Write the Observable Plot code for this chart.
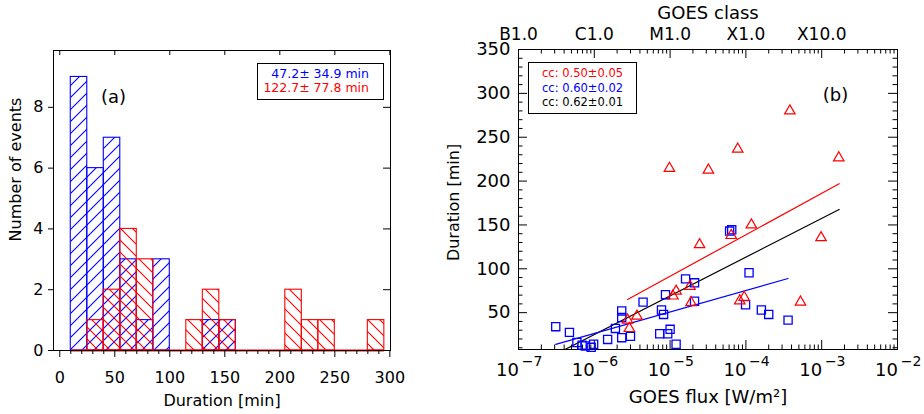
<!DOCTYPE html>
<html><head><meta charset="utf-8">
<script src="https://cdn.jsdelivr.net/npm/d3@7"></script>
<script src="https://cdn.jsdelivr.net/npm/@observablehq/plot@0.6"></script>
<style>
body{margin:0;background:#fff;}
#wrap{position:relative;width:924px;height:414px;overflow:hidden;font-family:"DejaVu Sans",sans-serif;background:#fff;}
#wrap svg.chart{position:absolute;top:0;}
.legend{position:absolute;border:1px solid #000;background:#fff;box-sizing:border-box;}
.legend div{white-space:pre;}
</style></head><body>
<svg width="0" height="0" style="position:absolute" aria-hidden="true">
  <defs>
    <pattern id="hatchBlue" patternUnits="userSpaceOnUse" width="12" height="12">
      <path d="M-3,3L3,-3M0,12L12,0M9,15L15,9" style="stroke:#0000ff;stroke-width:1.1;fill:none"/>
    </pattern>
    <pattern id="hatchRed" patternUnits="userSpaceOnUse" width="12" height="12">
      <path d="M-3,9L3,15M0,0L12,12M9,-3L15,3" style="stroke:#ff0000;stroke-width:1.1;fill:none"/>
    </pattern>
  </defs>
</svg>
<div id="wrap"></div>
<script>
// ---------- Panel (a): duration histogram ----------
const durEdges = [10,25,40,55,70,85,100,115,130,145,160,175,190,205,220,235,250,265,280,295];
const shortCounts = [9,6,7,3,1,3,0,0,1,1,0,0,0,0,0,0,0,0,0];
const longCounts  = [0,1,2,4,3,0,0,1,2,1,0,0,0,2,1,1,0,0,1];
const histYTicks = [0,2,4,6,8];
const histXTicks = [0,50,100,150,200,250,300];
const histXMinor = [10,20,30,40,60,70,80,90,110,120,130,140,160,170,180,190,210,220,230,240,260,270,280,290];
const legendA = ["47.2\u00b1 34.9 min", "122.7\u00b1 77.8 min"];

// ---------- Panel (b): GOES flux vs duration ----------
const shortFlux = [3.1e-7,4.7e-7,5.9e-7,6.9e-7,7.6e-7,9.1e-7,9.8e-7,1.5e-6,1.9e-6,2.3e-6,2.3e-6,2.3e-6,3.0e-6,4.4e-6,7.3e-6,7.7e-6,8.2e-6,8.7e-6,9.3e-6,1.0e-5,1.2e-5,1.6e-5,2.1e-5,2.1e-5,1.1e-4,9.9e-5,1.6e-4,2.0e-4,3.6e-4,6.1e-5,6.5e-5];
const shortDur  = [34,27.5,16,13,12,10.5,14,19.5,32,52,44.5,21.5,23,62,26,53,48,70.5,26,31,14,88.5,84,63,95.5,59,53,48,41.5,143,144.5];
const longFlux = [3.8e-4,9.8e-6,3.2e-5,7.8e-5,1.68e-3,1.18e-4,6.4e-5,2.45e-5,9.8e-4,2.75e-6,3.65e-6,2.9e-6,1.2e-5,1.09e-5,1.83e-5,1.89e-5,8.3e-5,9.5e-5,5.25e-4];
const longDur  = [280,214.5,212.5,236.5,226.5,150,138,127.5,135.5,41.5,46,32,74.5,69,80,61.5,63.5,67.5,62];
const fitRedFlux = [2.75e-6, 1.7e-3],  fitRedDur = [65, 197];
const fitBlackFlux = [3.1e-7, 1.7e-3], fitBlackDur = [2.6, 167.6];
const fitBlueFlux = [3.1e-7, 3.6e-4],  fitBlueDur = [13.9, 88.9];
const fluxTicks = [1e-7,1e-6,1e-5,1e-4,1e-3,1e-2];
const fluxExp = ["\u22127","\u22126","\u22125","\u22124","\u22123","\u22122"];
const goesTicks = [1e-7,1e-6,1e-5,1e-4,1e-3];
const goesLabels = ["B1.0","C1.0","M1.0","X1.0","X10.0"];
const durTicks = [50,100,150,200,250,300,350];
const durMinor = d3.range(10, 350, 10).filter(v => v % 50 !== 0);
const fluxMinor = [-7,-6,-5,-4,-3].flatMap(e => [2,3,4,5,6,7,8,9].map(m => m * Math.pow(10, e)));
const legendB = [["cc: 0.50\u00b10.05", "#f00"], ["cc: 0.60\u00b10.02", "#00f"], ["cc: 0.62\u00b10.01", "#000"]];

const FONT = "DejaVu Sans, sans-serif";
const bins = shortCounts.map((c, i) => ({x1: durEdges[i], x2: durEdges[i + 1], short: c, long: longCounts[i]}));
const mid = {textAnchor: "middle", lineAnchor: "middle"};

// ---------- left plot ----------
const WA = 440, HA = 414, mlA = 53, mrA = 50, mtA = 50, mbA = 64;
const fwA = WA - mlA - mrA, fhA = HA - mtA - mbA;
const plotA = Plot.plot({
  width: WA, height: HA, marginLeft: mlA, marginRight: mrA, marginTop: mtA, marginBottom: mbA,
  className: "chart",
  style: {fontFamily: FONT, color: "#000", background: "transparent", overflow: "visible"},
  x: {domain: [-5.7, 300.6], label: null},
  y: {domain: [0, 9.87], label: null},
  marks: [
    Plot.rectY(bins, {x1: "x1", x2: "x2", y1: 0, y2: "short", fill: "url(#hatchBlue)", stroke: "#00f", strokeWidth: 1.1}),
    Plot.rectY(bins, {x1: "x1", x2: "x2", y1: 0, y2: "long", fill: "url(#hatchRed)", stroke: "#f00", strokeWidth: 1.1}),
    Plot.ruleY([0], {x1: durEdges[0], x2: durEdges[durEdges.length - 1], stroke: "#f00", strokeWidth: 2}),
    Plot.frame({stroke: "#000"}),
    Plot.axisY(histYTicks, {anchor: "left", tickSize: 5, tickPadding: 5, fontSize: 16, label: null}),
    Plot.ruleY(histYTicks.slice(1), {y: d => d, insetLeft: fwA - 7, stroke: "#000"}),
    Plot.axisX(histXTicks, {anchor: "bottom", tickSize: 7, tickPadding: 14, fontSize: 16, label: null}),
    Plot.axisX(histXMinor, {anchor: "bottom", tickSize: 4, text: null, label: null}),
    Plot.ruleX(histXTicks, {x: d => d, insetBottom: fhA - 5, stroke: "#000"}),
    Plot.text(["(a)"], {text: d => d, frameAnchor: "top-left", dx: 60, dy: 47, fontSize: 18, ...mid}),
    Plot.text(["Number of events"], {text: d => d, frameAnchor: "left", rotate: -90, dx: -38, dy: -31, fontSize: 16, ...mid}),
    Plot.text(["Duration [min]"], {text: d => d, frameAnchor: "bottom", dy: 50, fontSize: 16, ...mid})
  ]
});

// ---------- right plot ----------
const WB = 484, HB = 414, mlB = 78, mrB = 27, mtB = 49, mbB = 65;
const fwB = WB - mlB - mrB, fhB = HB - mtB - mbB;
const plotB = Plot.plot({
  width: WB, height: HB, marginLeft: mlB, marginRight: mrB, marginTop: mtB, marginBottom: mbB,
  className: "chart",
  style: {fontFamily: FONT, color: "#000", background: "transparent", overflow: "visible"},
  x: {type: "log", domain: [1e-7, 1e-2], label: null, axis: null},
  y: {domain: [8, 350], label: null},
  marks: [
    Plot.frame({stroke: "#000"}),
    Plot.ruleX(fluxTicks, {x: d => d, insetTop: fhB - 9, stroke: "#000"}),
    Plot.ruleX(fluxMinor, {x: d => d, insetTop: fhB - 4.5, stroke: "#000"}),
    Plot.ruleX(fluxTicks, {x: d => d, insetBottom: fhB - 9, stroke: "#000"}),
    Plot.ruleX(fluxMinor, {x: d => d, insetBottom: fhB - 4.5, stroke: "#000"}),
    Plot.ruleY(durTicks, {y: d => d, insetRight: fwB - 9, stroke: "#000"}),
    Plot.ruleY(durMinor, {y: d => d, insetRight: fwB - 4.5, stroke: "#000"}),
    Plot.ruleY(durTicks, {y: d => d, insetLeft: fwB - 9, stroke: "#000"}),
    Plot.ruleY(durMinor, {y: d => d, insetLeft: fwB - 4.5, stroke: "#000"}),
    Plot.axisY(durTicks, {anchor: "left", tickSize: 0, tickPadding: 8, fontSize: 18, label: null}),
    Plot.text(fluxTicks, {x: d => d, text: () => "10", frameAnchor: "bottom", dx: -11, dy: 21, fontSize: 18, ...mid}),
    Plot.text(fluxTicks, {x: d => d, text: (d, i) => fluxExp[i], frameAnchor: "bottom", dx: 13.5, dy: 12, fontSize: 14, ...mid}),
    Plot.text(goesTicks, {x: d => d, text: (d, i) => goesLabels[i], frameAnchor: "top", dy: -15, fontSize: 17, ...mid}),
    Plot.line(fitRedFlux, {x: fitRedFlux, y: fitRedDur, stroke: "#f00", strokeWidth: 1.2, clip: true}),
    Plot.line(fitBlackFlux, {x: fitBlackFlux, y: fitBlackDur, stroke: "#000", strokeWidth: 1.2, clip: true}),
    Plot.line(fitBlueFlux, {x: fitBlueFlux, y: fitBlueDur, stroke: "#00f", strokeWidth: 1.2, clip: true}),
    Plot.dot(shortFlux, {x: shortFlux, y: shortDur, symbol: "square", r: 4.6, stroke: "#00f", strokeWidth: 1.3}),
    Plot.dot(longFlux, {x: longFlux, y: longDur, symbol: "triangle", r: 3.9, stroke: "#f00", strokeWidth: 1.2}),
    Plot.text(["(b)"], {text: d => d, frameAnchor: "top-right", dx: -62, dy: 46, fontSize: 18, ...mid}),
    Plot.text(["Duration [min]"], {text: d => d, frameAnchor: "left", rotate: -90, dx: -65, dy: 3, fontSize: 16, ...mid}),
    Plot.text(["GOES flux [W/m\u00b2]"], {text: d => d, frameAnchor: "bottom", dy: 47.7, fontSize: 18, ...mid}),
    Plot.text(["GOES class"], {text: d => d, frameAnchor: "top", dy: -36, fontSize: 18, ...mid})
  ]
});

const wrap = document.getElementById("wrap");
plotA.style.left = "0px";
plotB.style.left = WA + "px";
wrap.appendChild(plotA);
wrap.appendChild(plotB);

// legend boxes
const la = document.createElement("div");
la.className = "legend";
Object.assign(la.style, {left: "257px", top: "63px", width: "127px", height: "37px", fontSize: "12.5px", lineHeight: "14.4px", textAlign: "right", padding: "3px 14px 0 0"});
[["#00f", legendA[0]], ["#f00", legendA[1]]].forEach(([c, t]) => {
  const d = document.createElement("div"); d.style.color = c; d.textContent = t; la.appendChild(d);
});
wrap.appendChild(la);

const lb = document.createElement("div");
lb.className = "legend";
Object.assign(lb.style, {left: "528px", top: "62px", width: "109px", height: "52px", fontSize: "11.5px", lineHeight: "14.5px", textAlign: "left", padding: "3px 0 0 13px"});
legendB.forEach(([t, c]) => {
  const d = document.createElement("div"); d.style.color = c; d.textContent = t; lb.appendChild(d);
});
wrap.appendChild(lb);
</script>
</body></html>
